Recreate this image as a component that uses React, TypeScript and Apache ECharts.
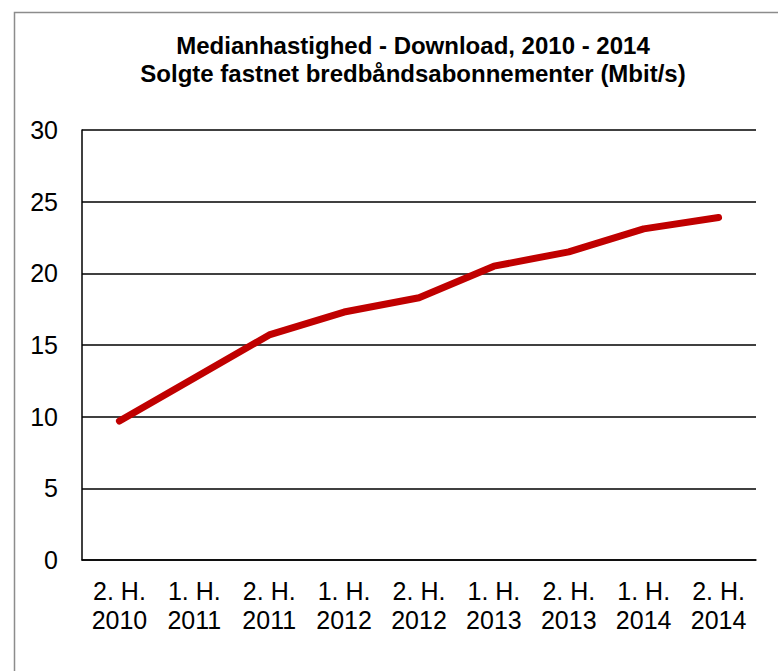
import React, { useEffect, useRef } from "react";
import * as echarts from "echarts";

const titleLines = [
  "Medianhastighed - Download, 2010 - 2014",
  "Solgte fastnet bredbåndsabonnementer (Mbit/s)",
];
const halves = ["2. H.", "1. H.", "2. H.", "1. H.", "2. H.", "1. H.", "2. H.", "1. H.", "2. H."];
const years = ["2010", "2011", "2011", "2012", "2012", "2013", "2013", "2014", "2014"];
const categories = halves.map((h, i) => `${h}\n${years[i]}`);
const medianSpeed = [9.7, 12.7, 15.7, 17.3, 18.3, 20.5, 21.5, 23.1, 23.9];
const yTicks = { min: 0, max: 30, interval: 5 };

const FONT = "'Liberation Sans', Arial, Helvetica, sans-serif";

export default function App() {
  const ref = useRef<HTMLDivElement>(null);
  useEffect(() => {
    document.body.style.margin = "0";
    document.body.style.overflow = "hidden";
    const chart = echarts.init(ref.current!, null, { renderer: "svg" });
    chart.setOption({
      animation: false,
      backgroundColor: "#fff",
      textStyle: { fontFamily: FONT },
      title: {
        text: titleLines.join("\n"),
        left: 408,
        top: 26,
        textAlign: "center",
        textStyle: {
          fontFamily: FONT,
          fontSize: 24,
          fontWeight: "bold",
          color: "#000",
          lineHeight: 28,
        },
      },
      graphic: [
        {
          type: "rect",
          shape: { x: 14.5, y: 12.5, width: 800, height: 700 },
          style: { fill: "none", stroke: "#8c8c8c", lineWidth: 1.5 },
          silent: true,
        },
      ],
      grid: { left: 82, top: 130, right: 22, bottom: 111, containLabel: false },
      xAxis: {
        type: "category",
        data: categories,
        boundaryGap: true,
        axisLine: { show: true, lineStyle: { color: "#000", width: 1.5 } },
        axisTick: { show: false },
        axisLabel: {
          color: "#000",
          fontFamily: FONT,
          fontSize: 25,
          lineHeight: 29,
          margin: 16,
          interval: 0,
        },
      },
      yAxis: {
        type: "value",
        min: yTicks.min,
        max: yTicks.max,
        interval: yTicks.interval,
        axisLine: { show: true, lineStyle: { color: "#000", width: 1.5 } },
        axisTick: { show: false },
        axisLabel: { color: "#000", fontFamily: FONT, fontSize: 25, margin: 24 },
        splitLine: { show: true, lineStyle: { color: "#000", width: 1.5 } },
      },
      series: [
        {
          type: "line",
          data: medianSpeed,
          symbol: "none",
          lineStyle: { color: "#c00000", width: 7, cap: "round", join: "round" },
          itemStyle: { color: "#c00000" },
        },
      ],
    });
    return () => chart.dispose();
  }, []);
  return <div ref={ref} style={{ width: 778, height: 671 }} />;
}
